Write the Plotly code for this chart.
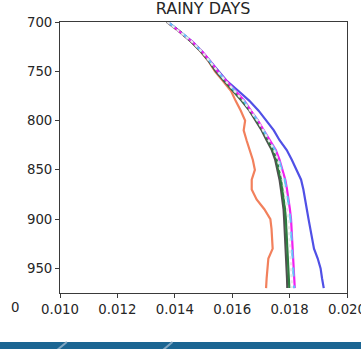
import plotly.graph_objects as go

# Pressure levels (hPa)
pressure = [700, 710, 720, 730, 740, 750, 760, 770, 780, 790, 800, 810, 820, 830,
            840, 850, 860, 870, 880, 890, 900, 910, 920, 930, 940, 950, 960, 970]

# Specific humidity profiles (kg/kg) for each member
orange = [0.01373, 0.01418, 0.01458, 0.01490, 0.01518, 0.01540, 0.01568, 0.01596,
          0.01612, 0.01630, 0.01645, 0.01640, 0.01650, 0.01662, 0.01672, 0.01679,
          0.01668, 0.01668, 0.01685, 0.01712, 0.01733, 0.01737, 0.01739, 0.01741,
          0.01726, 0.01722, 0.01720, 0.01718]
blue = [0.01376, 0.01421, 0.01462, 0.01495, 0.01524, 0.01550, 0.01582, 0.01622,
        0.01660, 0.01692, 0.01720, 0.01745, 0.01765, 0.01790, 0.01808, 0.01825,
        0.01840, 0.01848, 0.01853, 0.01860, 0.01866, 0.01872, 0.01878, 0.01885,
        0.01898, 0.01908, 0.01913, 0.01919]
darkgray = [0.01372, 0.01417, 0.01457, 0.01491, 0.01519, 0.01543, 0.01572, 0.01603,
            0.01633, 0.01660, 0.01683, 0.01703, 0.01720, 0.01738, 0.01750, 0.01758,
            0.01765, 0.01770, 0.01775, 0.01779, 0.01781, 0.01783, 0.01785, 0.01787,
            0.01789, 0.01790, 0.01791, 0.01792]
green = [0.01374, 0.01419, 0.01459, 0.01493, 0.01521, 0.01546, 0.01575, 0.01606,
         0.01636, 0.01664, 0.01687, 0.01707, 0.01725, 0.01742, 0.01755, 0.01763,
         0.01770, 0.01775, 0.01780, 0.01784, 0.01787, 0.01789, 0.01791, 0.01793,
         0.01795, 0.01797, 0.01798, 0.01799]
lightgray = [0.01374, 0.01419, 0.01460, 0.01494, 0.01522, 0.01547, 0.01577, 0.01608,
             0.01639, 0.01663, 0.01688, 0.01708, 0.01727, 0.01746, 0.01759, 0.01768,
             0.01776, 0.01782, 0.01788, 0.01792, 0.01796, 0.01798, 0.01801, 0.01803,
             0.01805, 0.01806, 0.01807, 0.01808]
cyan = [0.01375, 0.01420, 0.01460, 0.01494, 0.01523, 0.01548, 0.01578, 0.01610,
        0.01641, 0.01664, 0.01689, 0.01709, 0.01729, 0.01750, 0.01763, 0.01773,
        0.01783, 0.01789, 0.01795, 0.01799, 0.01803, 0.01805, 0.01808, 0.01810,
        0.01812, 0.01813, 0.01815, 0.01816]
magenta = [0.01375, 0.01420, 0.01461, 0.01495, 0.01524, 0.01549, 0.01580, 0.01612,
           0.01643, 0.01665, 0.01690, 0.01710, 0.01730, 0.01752, 0.01765, 0.01775,
           0.01785, 0.01791, 0.01797, 0.01801, 0.01805, 0.01807, 0.01810, 0.01812,
           0.01814, 0.01815, 0.01817, 0.01818]

x_ticks = [0.010, 0.012, 0.014, 0.016, 0.018, 0.020]
y_ticks = [700, 750, 800, 850, 900, 950]

series = [
    (orange, "#F2805C", "solid"),
    (blue, "#5050E6", "solid"),
    (darkgray, "#505050", "solid"),
    (green, "#2E7D40", "solid"),
    (magenta, "#F020F0", "solid"),
    (cyan, "#62C4F8", "dash"),
    (lightgray, "#E8E8E8", "dot"),
]

fig = go.Figure()
for xs, color, dash in series:
    fig.add_trace(go.Scatter(x=xs, y=pressure, mode="lines",
                             line=dict(color=color, width=2.2, dash=dash),
                             showlegend=False))

axis_common = dict(showline=True, mirror=True, linecolor="#3a3a3a", linewidth=1,
                   ticks="outside", ticklen=4, tickcolor="#3a3a3a",
                   showgrid=False, zeroline=False, automargin=False,
                   ticklabeloverflow="allow",
                   tickfont=dict(family="DejaVu Sans", size=13.3, color="#262626"))

fig.update_layout(
    width=361, height=349,
    margin=dict(l=60, r=14, t=22, b=56),
    paper_bgcolor="white", plot_bgcolor="white",
    xaxis=dict(range=[0.010, 0.020], tickvals=x_ticks,
               ticktext=[f"{v:.3f}" for v in x_ticks], **axis_common),
    yaxis=dict(range=[975, 700], tickvals=y_ticks,
               ticktext=[str(v) for v in y_ticks], **axis_common),
    title=dict(text="RAINY DAYS", x=0.5625, xanchor="center", y=0.975, yanchor="middle",
               font=dict(family="DejaVu Sans", size=16, color="#262626")),
    shapes=[
        # footer band with two light diagonal strokes
        dict(type="rect", xref="paper", yref="paper", x0=-0.3, x1=1.1,
             y0=-0.26, y1=-0.181, fillcolor="#1B6592", line=dict(width=0), layer="above"),
        dict(type="line", xref="paper", yref="paper", x0=-0.012, x1=0.024,
             y0=-0.212, y1=-0.181, line=dict(color="#7FA6C2", width=2), layer="above"),
        dict(type="line", xref="paper", yref="paper", x0=0.357, x1=0.392,
             y0=-0.212, y1=-0.181, line=dict(color="#7FA6C2", width=2), layer="above"),
    ],
    annotations=[
        dict(text="0", xref="paper", yref="paper", x=-0.157, y=-0.055,
             xanchor="center", yanchor="middle", showarrow=False,
             font=dict(family="DejaVu Sans", size=13.3, color="#262626")),
    ],
)

fig.write_html("out.html")
